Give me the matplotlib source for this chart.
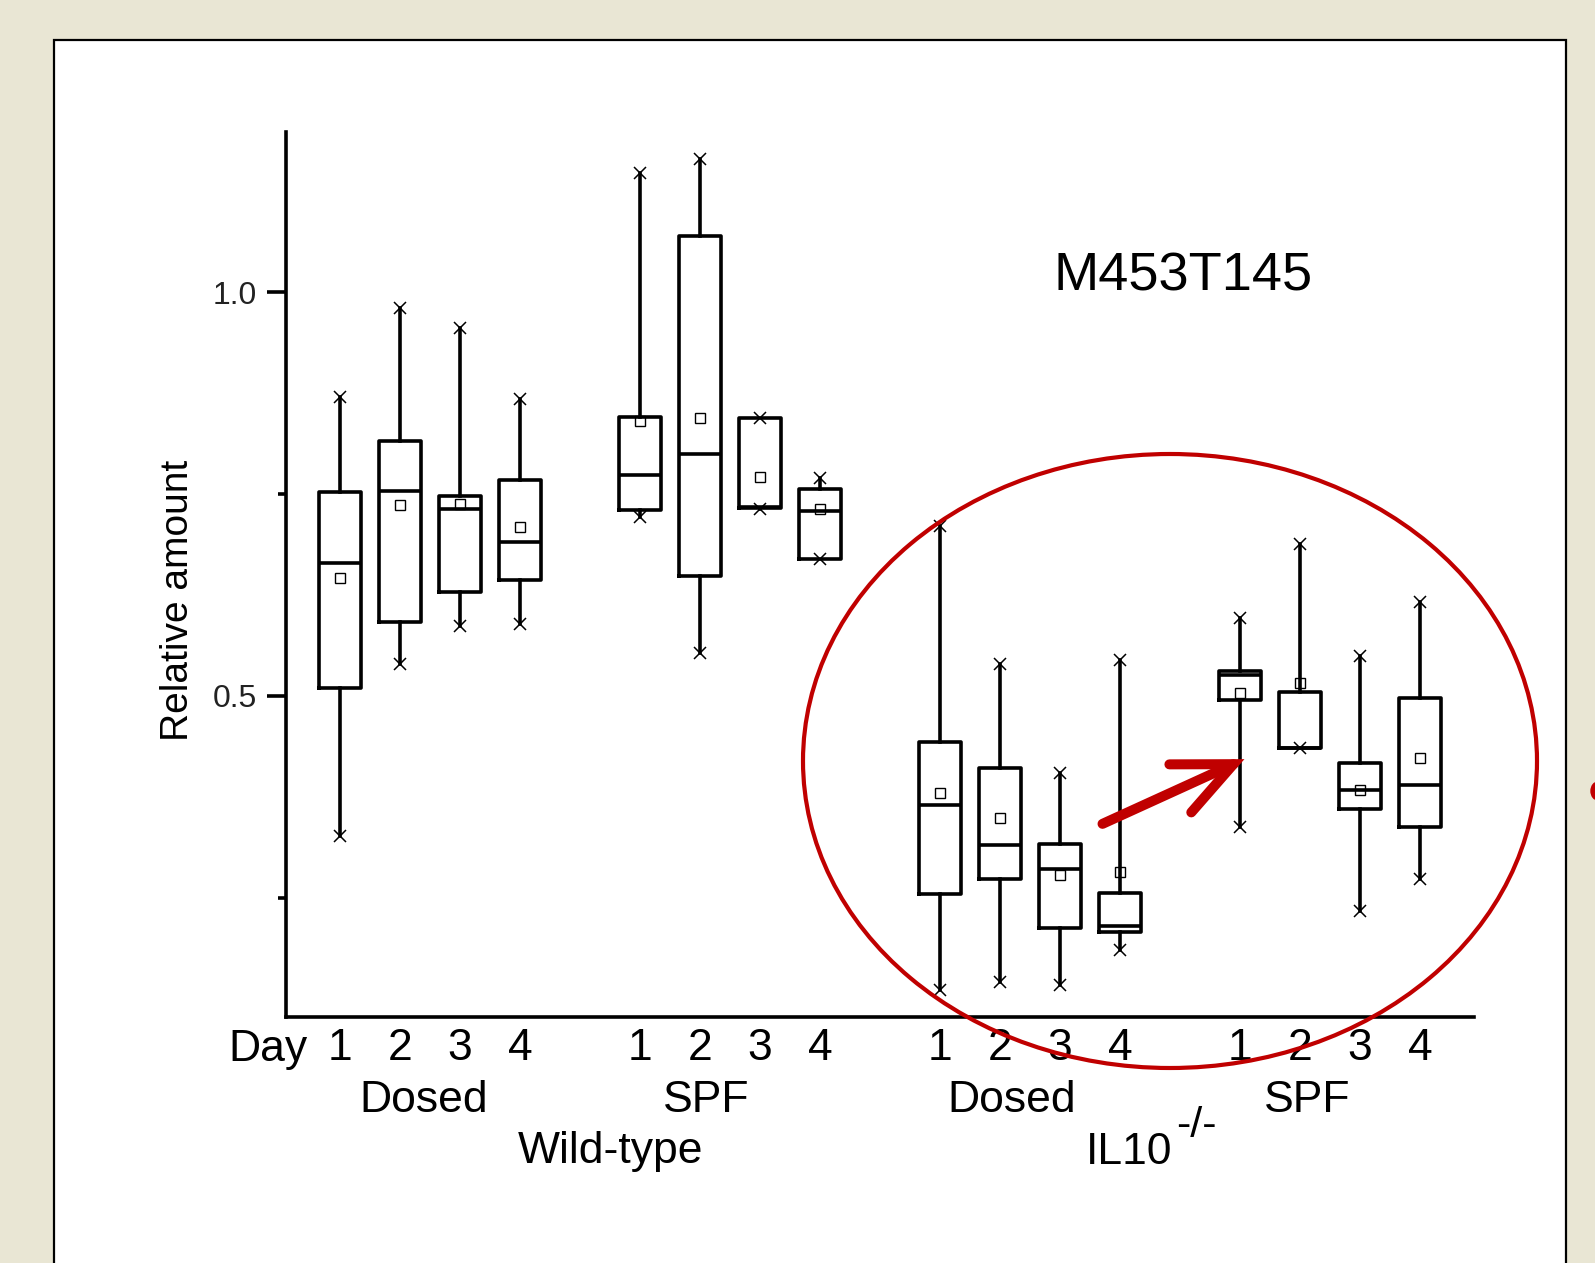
import matplotlib
matplotlib.use("Agg")
import matplotlib.pyplot as plt
from matplotlib.patches import Rectangle, Ellipse, FancyArrowPatch
from matplotlib.transforms import blended_transform_factory

BG_COLOR = "#E9E6D4"
RED = "#C00000"
W, H = 1595, 1263

compound = "M453T145"
days = ["1", "2", "3", "4"]
conditions = ["Dosed", "SPF", "Dosed", "SPF"]
strains = ["Wild-type", "IL10"]

# one entry per box: WT dosed d1-4, WT SPF d1-4, IL10 dosed d1-4, IL10 SPF d1-4
whisker_hi = [0.870, 0.980, 0.956, 0.868,
              1.147, 1.165, 0.844, 0.770,
              0.710, 0.540, 0.404, 0.545,
              0.597, 0.688, 0.549, 0.616]
q3 = [0.752, 0.815, 0.747, 0.767,
      0.845, 1.069, 0.844, 0.756,
      0.443, 0.411, 0.316, 0.256,
      0.531, 0.505, 0.417, 0.497]
median = [0.665, 0.754, 0.732, 0.690,
          0.773, 0.800, 0.734, 0.729,
          0.365, 0.315, 0.285, 0.215,
          0.526, 0.436, 0.384, 0.390]
mean = [0.646, 0.736, 0.738, 0.709,
        0.841, 0.844, 0.771, 0.732,
        0.380, 0.349, 0.278, 0.282,
        0.504, 0.516, 0.384, 0.423]
q1 = [0.510, 0.592, 0.628, 0.644,
      0.730, 0.649, 0.733, 0.669,
      0.254, 0.273, 0.212, 0.207,
      0.495, 0.436, 0.360, 0.338]
whisker_lo = [0.327, 0.540, 0.586, 0.589,
              0.722, 0.553, 0.732, 0.669,
              0.136, 0.145, 0.142, 0.185,
              0.338, 0.436, 0.234, 0.273]

positions = [g * 5 + d for g in range(4) for d in range(4)]

stats = []
for i in range(len(positions)):
    stats.append(dict(whishi=whisker_hi[i], q3=q3[i], med=median[i],
                      mean=mean[i], q1=q1[i], whislo=whisker_lo[i], fliers=[]))

fig = plt.figure(figsize=(W / 100, H / 100), dpi=100)
fig.patch.set_facecolor(BG_COLOR)

# white panel with thin black frame
panel = Rectangle((54 / W, -0.05), (1566 - 54) / W, 1.05 - 39.5 / H,
                  transform=fig.transFigure, facecolor="white",
                  edgecolor="black", linewidth=1.6, zorder=0)
fig.add_artist(panel)

ax = fig.add_axes([0.1792, 0.1946, 0.7449, 0.7007])
ax.patch.set_alpha(0)

lw = 2.6
ax.bxp(stats, positions=positions, widths=0.71, showcaps=False,
       showfliers=False, showmeans=True,
       boxprops=dict(color="black", linewidth=lw),
       whiskerprops=dict(color="black", linewidth=lw),
       medianprops=dict(color="black", linewidth=lw),
       meanprops=dict(marker="s", markerfacecolor="none",
                      markeredgecolor="black", markersize=7,
                      markeredgewidth=1.0))
ax.plot(positions, whisker_hi, "x", color="black", markersize=9, mew=1.1)
ax.plot(positions, whisker_lo, "x", color="black", markersize=9, mew=1.1)

ax.set_xlim(-0.9, 18.9)
ax.set_ylim(0.102, 1.198)
for s in ["top", "right"]:
    ax.spines[s].set_visible(False)
for s in ["left", "bottom"]:
    ax.spines[s].set_linewidth(lw)

ax.set_xticks([])
ax.set_yticks([0.5, 1.0])
ax.set_yticklabels(["0.5", "1.0"], family="Liberation Sans", fontsize=23,
                   color="#222222")
ax.set_yticks([0.25, 0.75], minor=True)
ax.tick_params(axis="y", which="major", length=14, width=lw, pad=7)
ax.tick_params(axis="y", which="minor", length=6, width=lw)

ax.set_ylabel("Relative amount", family="Liberation Sans", fontsize=28)
ax.yaxis.set_label_coords(-0.076, 0.471)

ax.text(14.05, 1.019, compound, family="Liberation Sans", fontsize=39,
        ha="center", va="center")

# category labels under the axis
lab = dict(family="Liberation Sans", fontsize=32, va="center")
tr = blended_transform_factory(ax.transData, fig.transFigure)
row1 = 1 - 1049 / H
row2 = 1 - 1100 / H
row3 = 1 - 1152 / H
ax.text(-1.2, row1, "Day", transform=tr, ha="center", **lab)
for p, d in zip(positions, days * 4):
    ax.text(p, row1, d, transform=tr, ha="center", **lab)
for x, c in zip([1.39, 6.10, 11.2, 16.12], conditions):
    ax.text(x, row2, c, transform=tr, ha="center", **lab)
ax.text(4.51, row3, strains[0], transform=tr, ha="center", **lab)
ax.text(13.88, row3, strains[1], transform=tr, ha="right", **lab)
ax.text(13.93, 1 - 1126 / H, "-/-", transform=tr, family="Liberation Sans",
        fontsize=31, ha="left", va="center")

# red highlight ellipse and arrow
fig.add_artist(Ellipse((1170 / W, 1 - 761 / H), 734 / W, 614 / H,
                       transform=fig.transFigure, fill=False,
                       edgecolor=RED, linewidth=3))
fig.add_artist(FancyArrowPatch((1100 / W, 1 - 825 / H), (1247 / W, 1 - 758 / H),
                               transform=fig.transFigure,
                               arrowstyle="->,head_length=4.2,head_width=1.9",
                               mutation_scale=10, linewidth=7.2, color=RED,
                               capstyle="round", joinstyle="miter"))
fig.add_artist(Ellipse((1598 / W, 1 - 791 / H), 14 / W, 18 / H,
                       transform=fig.transFigure, color=RED))

fig.savefig("out.png", dpi=100, facecolor=fig.get_facecolor())
